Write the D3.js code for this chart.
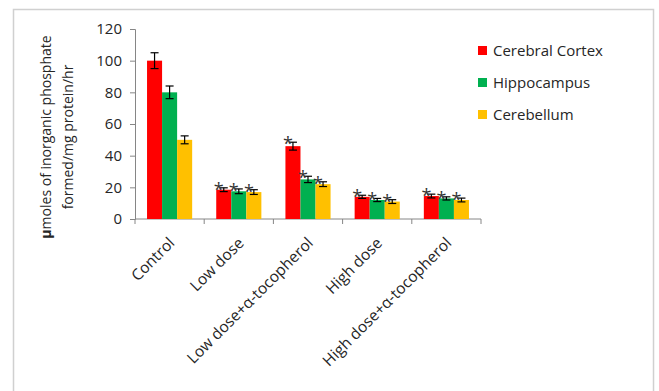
<!DOCTYPE html>
<html><head><meta charset="utf-8">
<script src="https://cdn.jsdelivr.net/npm/d3@7"></script>
<style>body{margin:0;background:#fff;} svg{display:block;}</style>
</head><body>
<script>
const categories = ["Control","Low dose","Low dose+\u03b1-tocopherol","High dose","High dose+\u03b1-tocopherol"];
const seriesNames = ["Cerebral Cortex","Hippocampus","Cerebellum"];
const cortex = [100, 18.5, 46, 14, 14.5];
const hippocampus = [80, 17.5, 25, 12, 13];
const cerebellum = [50, 17, 22, 11, 12];
const cortexErr = [5, 1.2, 2.5, 1, 1.2];
const hippocampusErr = [4, 1.5, 2, 1, 1];
const cerebellumErr = [2.5, 1.5, 1.5, 1.2, 1.2];
const significant = [false, true, true, true, true];
const yTicks = [0,20,40,60,80,100,120];
const colors = ["#FF0000","#00B050","#FFC000"];

const values = [cortex, hippocampus, cerebellum];
const errs = [cortexErr, hippocampusErr, cerebellumErr];

const W = 659, H = 391;
const font = "Open Sans, sans-serif";
const txt = "#262626";
const svg = d3.select("body").append("svg").attr("width", W).attr("height", H);

svg.append("rect").attr("x", 13.5).attr("y", 9.5).attr("width", 640).attr("height", 420)
  .attr("fill", "none").attr("stroke", "#d0d0d0").attr("stroke-width", 1.5);

const x0 = d3.scaleBand().domain(categories).range([135, 481]);
const x1 = d3.scaleBand().domain(seriesNames).range([0, x0.bandwidth()]).paddingInner(0).paddingOuter(0.8);
const y = d3.scaleLinear().domain([0, 120]).range([219, 29]);

// Y axis
const yAxis = svg.append("g").attr("transform", "translate(135,0)")
  .call(d3.axisLeft(y).tickValues(yTicks).tickSize(5).tickPadding(8).tickFormat(d3.format("d")));
yAxis.select(".domain").attr("stroke", "#868686");
yAxis.selectAll(".tick line").attr("stroke", "#868686");
yAxis.selectAll("text").attr("font-family", font).attr("font-size", 15).attr("fill", txt);

// X axis
const xAxis = svg.append("g").attr("transform", "translate(0,219)");
xAxis.append("line").attr("x1", 135).attr("x2", 481).attr("y1", 0).attr("y2", 0).attr("stroke", "#868686");
const bounds = categories.map(c => x0(c)).concat([x0(categories[categories.length-1]) + x0.bandwidth()]);
xAxis.selectAll("line.tk").data(bounds).join("line").attr("class","tk")
  .attr("x1", d => d).attr("x2", d => d).attr("y1", 0).attr("y2", 5).attr("stroke", "#868686");
xAxis.selectAll("text").data(categories).join("text")
  .attr("transform", d => `translate(${x0(d) + x0.bandwidth()/2 + 6},${25}) rotate(-45)`)
  .attr("text-anchor", "end").attr("font-family", font).attr("font-size", 15.5).attr("fill", txt)
  .text(d => d);

// Bars
seriesNames.forEach((s, si) => {
  const g = svg.append("g");
  categories.forEach((c, ci) => {
    const v = values[si][ci], e = errs[si][ci];
    const bx = x0(c) + x1(s), bw = x1.bandwidth();
    g.append("rect").attr("x", bx).attr("y", y(v)).attr("width", bw).attr("height", y(0) - y(v)).attr("fill", colors[si]);
    const cx = bx + bw/2;
    g.append("line").attr("x1", cx).attr("x2", cx).attr("y1", y(v+e)).attr("y2", y(v-e)).attr("stroke", "#000").attr("stroke-width", 1.2);
    [v+e, v-e].forEach(t => g.append("line").attr("x1", cx-4).attr("x2", cx+4).attr("y1", y(t)).attr("y2", y(t)).attr("stroke", "#000").attr("stroke-width", 1.2));
    if (significant[ci]) {
      g.append("text").attr("x", cx - 5).attr("y", y(v+e) + 8).attr("text-anchor", "middle")
        .attr("font-family", font).attr("font-size", 18).attr("fill", "#333").text("*");
    }
  });
});

// Y label
const yl = svg.append("text").attr("transform", "translate(0,137) rotate(-90)")
  .attr("text-anchor", "middle").attr("font-family", font).attr("font-size", 14).attr("fill", txt);
yl.append("tspan").attr("x", 0).attr("y", 51).html('<tspan font-weight="bold">\u03bc</tspan>moles of inorganic phosphate');
yl.append("tspan").attr("x", 0).attr("y", 73).text("formed/mg protein/hr");

// Legend
const lg = svg.append("g");
seriesNames.forEach((s, i) => {
  const ly = 51 + i * 32;
  lg.append("rect").attr("x", 478).attr("y", ly - 5).attr("width", 9).attr("height", 9).attr("fill", colors[i]);
  lg.append("text").attr("x", 493).attr("y", ly + 5).attr("font-family", font).attr("font-size", 15).attr("fill", txt).text(s);
});
</script>
</body></html>
